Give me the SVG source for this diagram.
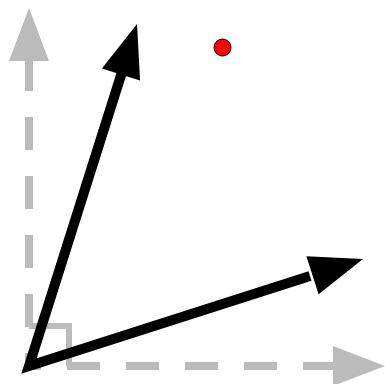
<svg xmlns="http://www.w3.org/2000/svg" width="385" height="384" viewBox="0 0 385 384">
<style>
.axis{stroke:#bbbbbb;stroke-width:8;fill:none;stroke-dasharray:33 26}
.axhead{fill:#bbbbbb}
.vec{stroke:#000;stroke-width:10;fill:none;stroke-linejoin:miter}
.vechead{fill:#000}
</style>
<rect width="385" height="384" fill="#fff"/>
<g id="axes">
<line class="axis" x1="29" y1="58" x2="29" y2="366"/>
<line class="axis" x1="29" y1="366" x2="334" y2="366" stroke-dashoffset="21"/>
<polygon class="axhead" points="9,61 49,61 29,8"/>
<polygon class="axhead" points="333,346 333,386 385,366"/>
<polyline points="29,326 69,326 69,366" fill="none" stroke="#bbbbbb" stroke-width="6"/>
</g>
<g id="vectors">
<polyline class="vec" points="122,72 29,366 310,276"/>
<polygon class="vechead" points="137,24 140.1,80.6 101.9,68.6"/>
<polygon class="vechead" points="363,259 318.6,294.2 306.4,256.2"/>
</g>
<g id="point">
<circle cx="222.5" cy="47.5" r="8.5" fill="#ff0000" stroke="#000" stroke-width="1"/>
</g>
</svg>
